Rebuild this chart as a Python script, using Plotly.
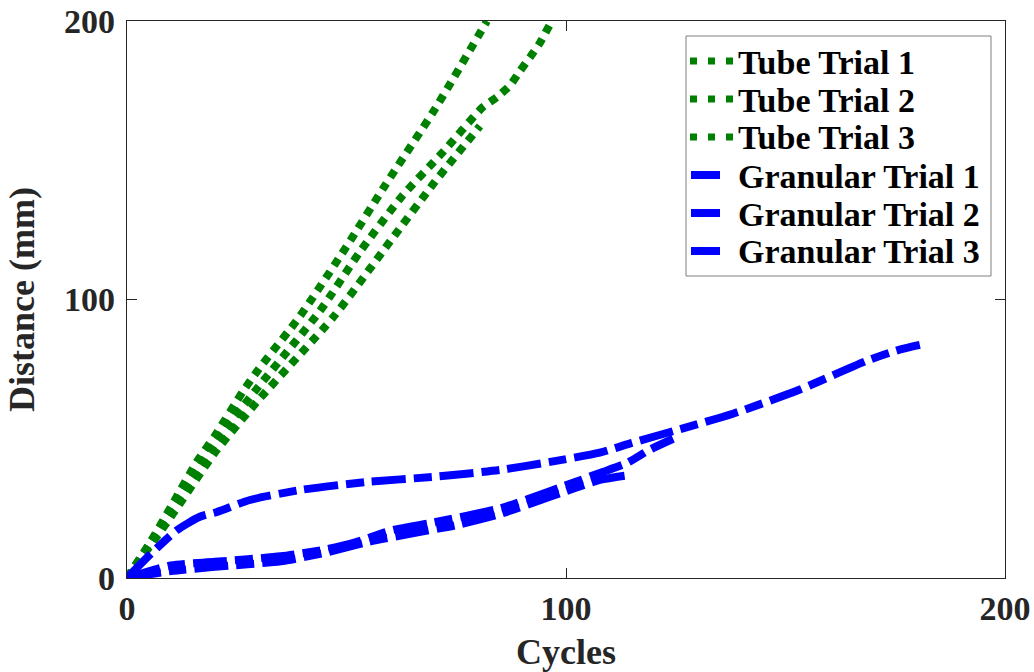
import plotly.graph_objects as go

# ---- data ----
tube1_x = [0, 5, 10, 16, 20, 26.4, 30, 39.4, 50, 58.8, 70, 82]
tube1_y = [0, 12, 25.5, 42, 51, 67, 75, 94, 119, 141, 168, 200]

tube2_x = [0, 10, 20.5, 29.6, 44, 53, 62.6, 72, 81, 84.3, 87.3, 89.5, 91.8, 94, 96.4]
tube2_y = [0, 24, 49.5, 68, 96, 117, 137, 153, 169, 172.7, 177, 182, 187, 192, 199]

tube3_x = [0, 10, 20, 30, 47, 60, 70, 80.4]
tube3_y = [0, 22, 45, 64, 93.7, 121, 142, 162.3]

gran1_x = [0, 5, 11.4, 16.6, 20.5, 28, 39.4, 54.7, 69.7, 85, 96.4, 107.7, 115, 125, 138, 153, 168.5, 176, 180.6]
gran1_y = [0, 8, 17.2, 22, 23.7, 28, 31.6, 34.5, 36.3, 38.8, 41.7, 45, 48.5, 53, 59, 67.5, 78, 82, 83.7]

gran2_x = [0, 10, 20, 35, 45, 52, 60, 70, 85, 96, 107.7, 113.9, 119, 124.4]
gran2_y = [0, 4.5, 5.8, 7.8, 10.2, 12.8, 17, 20, 25, 31, 37.7, 41.3, 46, 50]

gran3_x = [0, 10, 20, 35, 45, 55, 65, 75, 85, 96, 107.7, 114.6]
gran3_y = [0, 2.5, 4, 6, 9, 13, 16, 19, 23, 29, 35.2, 37]

x_ticks = [0, 100, 200]
y_ticks = [0, 100, 200]

GREEN = "#008000"
BLUE = "#0000FF"
FONT = "Liberation Serif"
DOT = "8px,7px"
DASHDOT = "34px,8px,18px,8px"

series = [
    ("Tube Trial 1", tube1_x, tube1_y, GREEN, DOT),
    ("Tube Trial 2", tube2_x, tube2_y, GREEN, DOT),
    ("Tube Trial 3", tube3_x, tube3_y, GREEN, DOT),
    ("Granular Trial 1", gran1_x, gran1_y, BLUE, DASHDOT),
    ("Granular Trial 2", gran2_x, gran2_y, BLUE, DASHDOT),
    ("Granular Trial 3", gran3_x, gran3_y, BLUE, DASHDOT),
]

# plot-area geometry (pixels)
W, H = 1034, 672
ML, MR, MT, MB = 127, 29, 21, 94
PW, PH = W - ML - MR, H - MT - MB

def px_x(p):
    return (p - ML) / PW

def px_y(p):
    return (H - MB - p) / PH

fig = go.Figure()
for name, xs, ys, col, dash in series:
    fig.add_trace(go.Scatter(
        x=xs, y=ys, mode="lines", name=name, showlegend=False,
        line=dict(color=col, width=8, dash=dash, shape="spline", smoothing=0.6),
    ))

# ---- legend drawn manually (box, samples, labels) ----
shapes = [dict(type="rect", xref="paper", yref="paper",
               x0=px_x(686), x1=px_x(991), y0=px_y(276), y1=px_y(36),
               line=dict(color="#7f7f7f", width=1), fillcolor="white", layer="above")]
annotations = []
row_y = [61, 99, 137, 175, 213, 251]
for (name, _, _, col, _), ry in zip(series, row_y):
    if col == GREEN:
        shapes.append(dict(type="line", xref="paper", yref="paper",
                           x0=px_x(690), x1=px_x(736), y0=px_y(ry), y1=px_y(ry),
                           line=dict(color=col, width=7, dash="7px,11px"), layer="above"))
    else:
        shapes.append(dict(type="line", xref="paper", yref="paper",
                           x0=px_x(691), x1=px_x(720), y0=px_y(ry), y1=px_y(ry),
                           line=dict(color=col, width=8), layer="above"))
    annotations.append(dict(xref="paper", yref="paper", x=px_x(736), y=px_y(ry + 1),
                            xanchor="left", yanchor="middle", showarrow=False,
                            text=f"<b>{name}</b>",
                            font=dict(family=FONT, size=34, color="black")))

axis_common = dict(
    showgrid=False, zeroline=False, automargin=False,
    showline=True, linecolor="#262626", linewidth=1.3, mirror="ticks",
    ticks="inside", ticklen=10, tickwidth=1.3, tickcolor="#262626",
    tickfont=dict(family=FONT, size=34, color="#262626"),
)

fig.update_layout(
    width=W, height=H,
    margin=dict(l=ML, r=MR, t=MT, b=MB),
    paper_bgcolor="white", plot_bgcolor="white",
    font=dict(family=FONT, color="#262626"),
    showlegend=False,
    shapes=shapes, annotations=annotations,
    xaxis=dict(
        range=[0, 200], tickvals=x_ticks, ticktext=[f"<b>{v}</b>" for v in x_ticks],
        title=dict(text="<b>Cycles</b>", font=dict(family=FONT, size=36, color="#262626"), standoff=16),
        **axis_common,
    ),
    yaxis=dict(
        range=[0, 200], tickvals=y_ticks, ticktext=[f"<b>{v}</b>" for v in y_ticks],
        title=dict(text="<b>Distance (mm)</b>", font=dict(family=FONT, size=36, color="#262626"), standoff=18),
        ticklabelstandoff=4,
        **axis_common,
    ),
)

fig.write_html("out.html")
